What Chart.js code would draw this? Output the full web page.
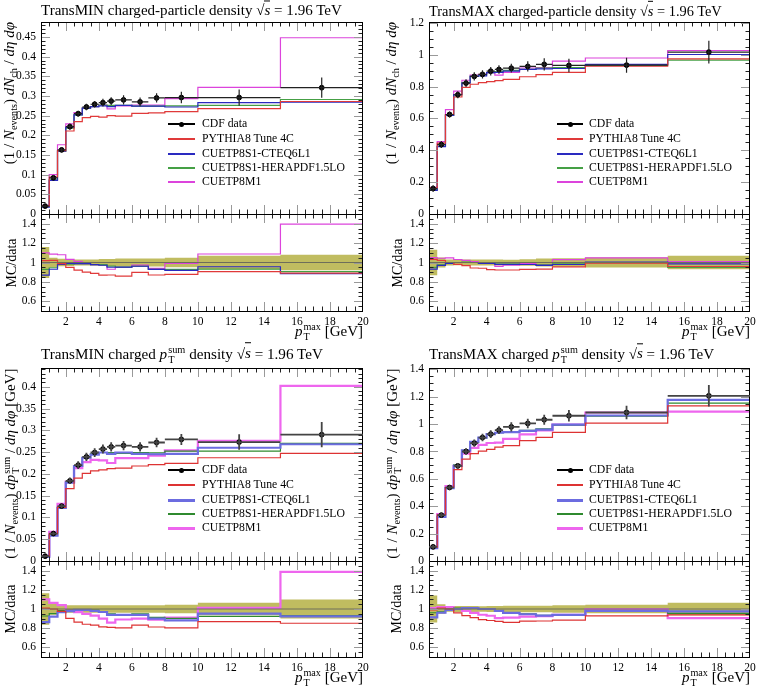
<!DOCTYPE html>
<html><head><meta charset="utf-8">
<script src="https://cdn.jsdelivr.net/npm/chart.js@4"></script>
<style>
html,body{margin:0;padding:0;background:#fff;}
body{width:757px;height:687px;position:relative;overflow:hidden;font-family:"Liberation Serif","DejaVu Serif",serif;color:#000;}
canvas{position:absolute;}
.t{position:absolute;white-space:nowrap;line-height:1;}
.ss{display:inline-block;vertical-align:-0.42em;font-size:0.68em;line-height:0.95em;text-align:left;margin-left:1px;}
.ss span{display:block;}
.ov{border-top:1px solid #000;padding-top:1px;}
sub{font-size:0.68em;vertical-align:-0.3em;line-height:0;}
.rot{position:absolute;transform:rotate(-90deg);white-space:nowrap;line-height:1;}
.lg{position:absolute;}
</style>
</head><body>
<script>
// ---------------- data ----------------
const binEdges = [0.5, 1, 1.5, 2, 2.5, 3, 3.5, 4, 4.5, 5, 6, 7, 8, 10, 15, 20];
const xTickLabels = [2, 4, 6, 8, 10, 12, 14, 16, 18, 20];
const ratioTickLabels = [0.6, 0.8, 1, 1.2, 1.4];
const minNchTickLabels = [0, 0.05, 0.1, 0.15, 0.2, 0.25, 0.3, 0.35, 0.4, 0.45];
const maxNchTickLabels = [0, 0.2, 0.4, 0.6, 0.8, 1, 1.2];
const minPtTickLabels = [0, 0.05, 0.1, 0.15, 0.2, 0.25, 0.3, 0.35, 0.4];
const maxPtTickLabels = [0, 0.2, 0.4, 0.6, 0.8, 1, 1.2, 1.4];
const seriesLabels = ['CDF data', 'PYTHIA8 Tune 4C', 'CUETP8S1-CTEQ6L1', 'CUETP8S1-HERAPDF1.5LO', 'CUETP8M1'];

// TransMIN charged-particle density
const minNchData = [0.020, 0.092, 0.163, 0.222, 0.255, 0.272, 0.279, 0.283, 0.287, 0.290, 0.285, 0.295, 0.296, 0.296, 0.321];
const minNchErr  = [0.0032, 0.0046, 0.0065, 0.0078, 0.0077, 0.0082, 0.0084, 0.0099, 0.0100, 0.0116, 0.0114, 0.0118, 0.0148, 0.0207, 0.0257];
const minNchP4C  = [0.0204, 0.094, 0.161, 0.211, 0.235, 0.245, 0.248, 0.246, 0.250, 0.249, 0.256, 0.257, 0.260, 0.268, 0.286];
const minNchCTEQ = [0.0174, 0.0856, 0.160, 0.220, 0.252, 0.269, 0.273, 0.275, 0.273, 0.276, 0.274, 0.274, 0.272, 0.283, 0.284];
const minNchHERA = [0.0186, 0.087, 0.160, 0.218, 0.252, 0.269, 0.273, 0.277, 0.276, 0.276, 0.274, 0.274, 0.275, 0.276, 0.291];
const minNchM1   = [0.022, 0.100, 0.176, 0.229, 0.258, 0.269, 0.273, 0.277, 0.267, 0.275, 0.277, 0.277, 0.293, 0.322, 0.448];

// TransMAX charged-particle density
const maxNchData = [0.160, 0.436, 0.625, 0.749, 0.822, 0.864, 0.877, 0.897, 0.908, 0.916, 0.927, 0.940, 0.933, 0.935, 1.017];
const maxNchErr  = [0.021, 0.022, 0.019, 0.022, 0.025, 0.026, 0.026, 0.027, 0.027, 0.027, 0.032, 0.038, 0.042, 0.047, 0.071];
const maxNchP4C  = [0.165, 0.445, 0.625, 0.735, 0.795, 0.815, 0.825, 0.832, 0.838, 0.845, 0.862, 0.875, 0.890, 0.928, 0.975];
const maxNchCTEQ = [0.149, 0.423, 0.619, 0.749, 0.822, 0.864, 0.868, 0.888, 0.890, 0.898, 0.908, 0.912, 0.914, 0.940, 1.002];
const maxNchHERA = [0.152, 0.425, 0.619, 0.749, 0.826, 0.864, 0.873, 0.888, 0.894, 0.902, 0.908, 0.917, 0.919, 0.933, 0.966];
const maxNchM1   = [0.168, 0.455, 0.655, 0.772, 0.840, 0.872, 0.877, 0.888, 0.872, 0.890, 0.917, 0.920, 0.960, 0.980, 1.027];

// TransMIN charged pTsum density
const minPtData = [0.011, 0.063, 0.126, 0.184, 0.220, 0.239, 0.249, 0.257, 0.262, 0.265, 0.262, 0.272, 0.279, 0.273, 0.290];
const minPtErr  = [0.0018, 0.0038, 0.0050, 0.0074, 0.0088, 0.0096, 0.0100, 0.0103, 0.0105, 0.0106, 0.0105, 0.0109, 0.0126, 0.0177, 0.029];
const minPtP4C  = [0.0111, 0.063, 0.123, 0.166, 0.190, 0.201, 0.207, 0.209, 0.212, 0.213, 0.218, 0.221, 0.224, 0.237, 0.247];
const minPtCTEQ = [0.0095, 0.058, 0.122, 0.180, 0.218, 0.237, 0.244, 0.249, 0.246, 0.249, 0.246, 0.245, 0.246, 0.260, 0.268];
const minPtHERA = [0.0102, 0.060, 0.124, 0.182, 0.218, 0.237, 0.246, 0.249, 0.249, 0.247, 0.249, 0.248, 0.252, 0.252, 0.270];
const minPtM1   = [0.0121, 0.067, 0.131, 0.182, 0.213, 0.227, 0.232, 0.231, 0.225, 0.236, 0.236, 0.242, 0.254, 0.276, 0.402];

// TransMAX charged pTsum density
const maxPtData = [0.103, 0.335, 0.537, 0.695, 0.800, 0.861, 0.902, 0.927, 0.956, 0.980, 1.005, 1.032, 1.061, 1.085, 1.207];
const maxPtErr  = [0.0144, 0.0168, 0.016, 0.021, 0.024, 0.026, 0.027, 0.028, 0.029, 0.034, 0.035, 0.036, 0.042, 0.049, 0.078];
const maxPtP4C  = [0.102, 0.338, 0.537, 0.667, 0.744, 0.784, 0.803, 0.816, 0.832, 0.843, 0.879, 0.903, 0.939, 1.007, 1.134];
const maxPtCTEQ = [0.094, 0.322, 0.532, 0.695, 0.808, 0.870, 0.902, 0.927, 0.937, 0.941, 0.950, 0.960, 0.997, 1.063, 1.177];
const maxPtHERA = [0.099, 0.325, 0.537, 0.702, 0.808, 0.870, 0.902, 0.927, 0.937, 0.941, 0.955, 0.965, 0.992, 1.058, 1.153];
const maxPtM1   = [0.104, 0.342, 0.548, 0.695, 0.784, 0.827, 0.848, 0.862, 0.865, 0.892, 0.925, 0.955, 0.997, 1.085, 1.092];

// ---------------- helpers ----------------
const FONT = '"Liberation Serif", "DejaVu Serif", serif';
function stepPts(vals){
  const p = vals.map((v,i)=>({x:binEdges[i], y:v}));
  p.push({x:binEdges[binEdges.length-1], y:vals[vals.length-1]});
  return p;
}
const centers = binEdges.slice(0,-1).map((e,i)=>(e+binEdges[i+1])/2);
const halfW = binEdges.slice(0,-1).map((e,i)=>(binEdges[i+1]-e)/2);

const frameTicks = {
  id:'frameTicks',
  afterDatasetsDraw(chart, args, o){
    const {ctx, chartArea:a, scales:{x, y}} = chart;
    ctx.save();
    ctx.lineWidth = 1;
    const eps = 1e-6;
    const isMaj = (v, m) => Math.abs(v/m - Math.round(v/m)) < 1e-6;
    for (let k = Math.ceil(x.min/o.xMinor - eps); k*o.xMinor <= x.max + eps; k++){
      const v = k*o.xMinor;
      if (Math.abs(v-x.min)<eps || Math.abs(v-x.max)<eps) continue;
      const px = Math.round(x.getPixelForValue(v)) + 0.5;
      const maj = isMaj(v, o.xMajor);
      const L = maj ? 9 : 4.5;
      ctx.strokeStyle = maj ? '#999' : '#222';
      ctx.beginPath();
      ctx.moveTo(px, a.bottom); ctx.lineTo(px, a.bottom - L);
      ctx.moveTo(px, a.top); ctx.lineTo(px, a.top + L);
      ctx.stroke();
    }
    for (let k = Math.ceil(y.min/o.yMinor - eps); k*o.yMinor <= y.max + eps; k++){
      const v = k*o.yMinor;
      if (Math.abs(v-y.min)<eps || Math.abs(v-y.max)<eps) continue;
      const py = Math.round(y.getPixelForValue(v)) + 0.5;
      const maj = isMaj(v, o.yMajor);
      const L = maj ? 9 : 4.5;
      ctx.strokeStyle = maj ? '#999' : '#222';
      ctx.beginPath();
      ctx.moveTo(a.left, py); ctx.lineTo(a.left + L, py);
      ctx.moveTo(a.right, py); ctx.lineTo(a.right - L, py);
      ctx.stroke();
    }
    ctx.strokeStyle = '#000';
    ctx.strokeRect(Math.round(a.left)+0.5, Math.round(a.top)+0.5, Math.round(a.right)-Math.round(a.left)-1, Math.round(a.bottom)-Math.round(a.top));
    ctx.restore();
  }
};
const errorBars = {
  id:'errorBars',
  afterDatasetsDraw(chart){
    const {ctx, scales:{x, y}} = chart;
    chart.data.datasets.forEach(ds=>{
      if (!ds.errY) return;
      ctx.save();
      ctx.strokeStyle = ds.barColor; ctx.lineWidth = ds.barWidth;
      ds.data.forEach((p,i)=>{
        const cx = x.getPixelForValue(p.x), cy = y.getPixelForValue(p.y);
        ctx.beginPath();
        ctx.moveTo(x.getPixelForValue(p.x - ds.errX[i]), cy);
        ctx.lineTo(x.getPixelForValue(p.x + ds.errX[i]), cy);
        ctx.moveTo(cx, y.getPixelForValue(p.y - ds.errY[i]));
        ctx.lineTo(cx, y.getPixelForValue(p.y + ds.errY[i]));
        ctx.stroke();
      });
      ctx.restore();
    });
  }
};

function addCanvas(left, top, w, h){
  const c = document.createElement('canvas');
  c.width = w; c.height = h;
  c.style.left = left+'px'; c.style.top = top+'px';
  c.style.width = w+'px'; c.style.height = h+'px';
  document.body.appendChild(c);
  return c;
}
function addDiv(cls, html, style){
  const d = document.createElement('div');
  d.className = cls; d.innerHTML = html;
  Object.assign(d.style, style);
  document.body.appendChild(d);
  return d;
}
// scale a text element's font so that it spans the target width
function fitWidth(d, size, target){
  const w = d.getBoundingClientRect().width;
  if (w > 0) d.style.fontSize = (size * target / w).toFixed(2) + 'px';
}

const geomCols = [{canvasLeft:0, plotLeft:41, plotRight:363}, {canvasLeft:380, plotLeft:429, plotRight:750}];
const geomRows = [{top:22, zero:214, bottom:311, title:11, xlab:332, legend:[124,139,153.5,168,182]},
                  {top:368, zero:561, bottom:657, title:355, xlab:678, legend:[470,485,499.5,514,528]}];
const legendCols = [{l1:168, l2:195, tx:202}, {l1:557, l2:583, tx:589}];

const sqrtS = '<span>√</span><span class="ov"><i>s</i></span> = 1.96 TeV';
const ptSum = '<i>p</i><span class="ss"><span>sum</span><span>T</span></span>';
const ylabNch = '(1 / <i>N</i><sub>events</sub>) <i>dN</i><sub>ch</sub> / <i>dη dφ</i>';
const ylabPt = '(1 / <i>N</i><sub>events</sub>) <i>d</i>' + ptSum + ' / <i>dη dφ</i> [GeV]';

const panels = [
  {col:0,row:0,ymax:0.488,yMinor:0.01,yMajor:0.05,ticks:minNchTickLabels,data:minNchData,err:minNchErr,mc:[minNchP4C,minNchCTEQ,minNchHERA,minNchM1],
   title:'TransMIN charged-particle density '+sqrtS, titleW:301, ylab:ylabNch},
  {col:1,row:0,ymax:1.206,yMinor:0.05,yMajor:0.2,ticks:maxNchTickLabels,data:maxNchData,err:maxNchErr,mc:[maxNchP4C,maxNchCTEQ,maxNchHERA,maxNchM1],
   title:'TransMAX charged-particle density '+sqrtS, titleW:293, ylab:ylabNch},
  {col:0,row:1,ymax:0.443,yMinor:0.01,yMajor:0.05,ticks:minPtTickLabels,data:minPtData,err:minPtErr,mc:[minPtP4C,minPtCTEQ,minPtHERA,minPtM1],
   title:'TransMIN charged '+ptSum+' density '+sqrtS, titleW:282, ylab:ylabPt},
  {col:1,row:1,ymax:1.41,yMinor:0.05,yMajor:0.2,ticks:maxPtTickLabels,data:maxPtData,err:maxPtErr,mc:[maxPtP4C,maxPtCTEQ,maxPtHERA,maxPtM1],
   title:'TransMAX charged '+ptSum+' density '+sqrtS, titleW:285, ylab:ylabPt},
];
const styleRows = [
  {colors:['#000','#e03a3a','#2a2ac0','#45a045','#dc44dc'], widths:[1,1.2,1.2,1.2,1.2], legW:[2,2,2,2,2], bar:'#222', barW:1.2},
  {colors:['#000','#dd3333','#6c6ce0','#2f8a2f','#ee66ee'], widths:[1,1.2,2.2,1.2,2.2], legW:[2,2,3,2,3], bar:'#444', barW:1.8},
];

function yScale(min, max, ticks, width){
  return {type:'linear', min, max, display:true,
    grid:{display:false, drawTicks:false}, border:{display:false},
    ticks:{padding:5, font:{family:FONT, size:11.5}, color:'#000', callback:v=>String(v)},
    afterBuildTicks:s=>{ s.ticks = ticks.map(v=>({value:v})); },
    afterFit:s=>{ s.width = width; }};
}

const PAD = 16;
panels.forEach(p=>{
  const G = geomCols[p.col], R = geomRows[p.row], S = styleRows[p.row], LC = legendCols[p.col];
  const padR = 14;
  const w = G.plotRight + padR - G.canvasLeft;
  const yw = G.plotLeft - G.canvasLeft;
  // ---- main chart ----
  const mainCanvas = addCanvas(G.canvasLeft, R.top - PAD, w, R.zero - R.top + 2*PAD);
  const mcSets = p.mc.map((vals, k)=>({type:'line', label:seriesLabels[k+1], data:stepPts(vals), stepped:'before',
      borderColor:S.colors[k+1], borderWidth:S.widths[k+1], pointRadius:0, fill:false}));
  const dataSet = {type:'line', label:seriesLabels[0], showLine:false,
      data:centers.map((c,i)=>({x:c, y:p.data[i]})), errY:p.err, errX:halfW, barColor:S.bar, barWidth:S.barW,
      pointRadius:2.4, pointBackgroundColor:'#000', pointBorderColor:'#000', borderColor:'#000'};
  const mainChart = new Chart(mainCanvas, {
    type:'line',
    data:{datasets:[dataSet, ...mcSets]},
    options:{responsive:false, animation:false, devicePixelRatio:1,
      layout:{padding:{left:0, right:padR, top:PAD, bottom:PAD}},
      plugins:{legend:{display:false}, tooltip:{enabled:false}, frameTicks:{xMinor:0.5, xMajor:2, yMinor:p.yMinor, yMajor:p.yMajor}},
      scales:{x:{type:'linear', min:binEdges[0], max:binEdges[binEdges.length-1], display:false},
              y:yScale(0, p.ymax, p.ticks, yw)}},
    plugins:[frameTicks, errorBars]
  });
  // ---- ratio chart ----
  const xh = 22;
  const ratioCanvas = addCanvas(G.canvasLeft, R.zero - PAD, w, R.bottom - R.zero + PAD + xh);
  const ratioSets = [{type:'line', label:seriesLabels[0], data:stepPts(p.data.map(()=>1)), stepped:'before', borderColor:'#6e6e5a', borderWidth:1.2, pointRadius:0, fill:false}]
    .concat(p.mc.map((vals,k)=>({type:'line', label:seriesLabels[k+1], data:stepPts(vals.map((v,i)=>v/p.data[i])), stepped:'before',
      borderColor:S.colors[k+1], borderWidth:S.widths[k+1], pointRadius:0, fill:false})))
    .concat([{type:'line', label:'band+', data:stepPts(p.err.map((e,i)=>1+e/p.data[i])), stepped:'before', borderWidth:0, borderColor:'rgba(0,0,0,0)', pointRadius:0, fill:false},
             {type:'line', label:'band-', data:stepPts(p.err.map((e,i)=>1-e/p.data[i])), stepped:'before', borderWidth:0, borderColor:'rgba(0,0,0,0)', pointRadius:0, fill:'-1', backgroundColor:'rgb(192,188,96)'}]);
  new Chart(ratioCanvas, {
    type:'line',
    data:{datasets:ratioSets},
    options:{responsive:false, animation:false, devicePixelRatio:1,
      layout:{padding:{left:0, right:padR, top:PAD, bottom:0}},
      plugins:{legend:{display:false}, tooltip:{enabled:false}, filler:{propagate:false}, frameTicks:{xMinor:0.5, xMajor:2, yMinor:0.05, yMajor:0.2}},
      scales:{x:{type:'linear', min:binEdges[0], max:binEdges[binEdges.length-1], display:true,
                 grid:{display:false, drawTicks:false}, border:{display:false},
                 ticks:{padding:4, maxRotation:0, autoSkip:false, font:{family:FONT, size:11.5}, color:'#000', callback:v=>String(v)},
                 afterBuildTicks:s=>{ s.ticks = xTickLabels.map(v=>({value:v})); },
                 afterFit:s=>{ s.height = xh; }},
              y:yScale(0.5, 1.5, ratioTickLabels, yw)}},
    plugins:[frameTicks]
  });
  // ---- texts ----
  const tt = addDiv('t', p.title, {left:G.plotLeft+'px', top:R.title+'px', fontSize:'15px', transform:'translateY(-50%)'});
  fitWidth(tt, 15, p.titleW);
  addDiv('t', '<i>p</i><span class="ss"><span>max</span><span>T</span></span> [GeV]',
         {right:(757-G.plotRight)+'px', top:R.xlab+'px', fontSize:'15px', transform:'translateY(-50%)'});
  const H = R.zero - R.top;
  const cx = G.canvasLeft + (p.col===0 ? 9 : 11);
  addDiv('rot', p.ylab, {left:(cx - H/2)+'px', top:(R.top + H/2 - 9)+'px', width:H+'px', height:'18px', lineHeight:'18px', textAlign:'right', fontSize:'15px'});
  const RH = R.bottom - R.zero;
  const rcx = G.canvasLeft + (p.col===0 ? 11 : 17);
  addDiv('rot', 'MC/data', {left:(rcx - RH/2)+'px', top:(R.zero + RH/2 - 9)+'px', width:RH+'px', height:'18px', lineHeight:'18px', textAlign:'center', fontSize:'14px'});
  // ---- legend built from the chart datasets ----
  const labelDivs = [];
  mainChart.data.datasets.forEach((ds, k)=>{
    const yy = Math.round(R.legend[k]);
    const lw = S.legW[k];
    addDiv('lg', '', {left:LC.l1+'px', top:(yy - Math.floor(lw/2))+'px', width:(LC.l2-LC.l1)+'px', height:lw+'px', background:S.colors[k]});
    if (k===0) addDiv('lg', '', {left:((LC.l1+LC.l2)/2-2.5)+'px', top:(yy-2)+'px', width:'5px', height:'5px', borderRadius:'50%', background:'#000'});
    labelDivs.push(addDiv('t', ds.label, {left:LC.tx+'px', top:yy+'px', fontSize:'13px', transform:'translateY(-50%)'}));
  });
  // longest legend entry spans ~143 px in the reference
  const widest = Math.max(...labelDivs.map(d=>d.getBoundingClientRect().width));
  const fs = (13 * 143 / widest).toFixed(2) + 'px';
  labelDivs.forEach(d=>{ d.style.fontSize = fs; });
});
</script>
</body></html>
